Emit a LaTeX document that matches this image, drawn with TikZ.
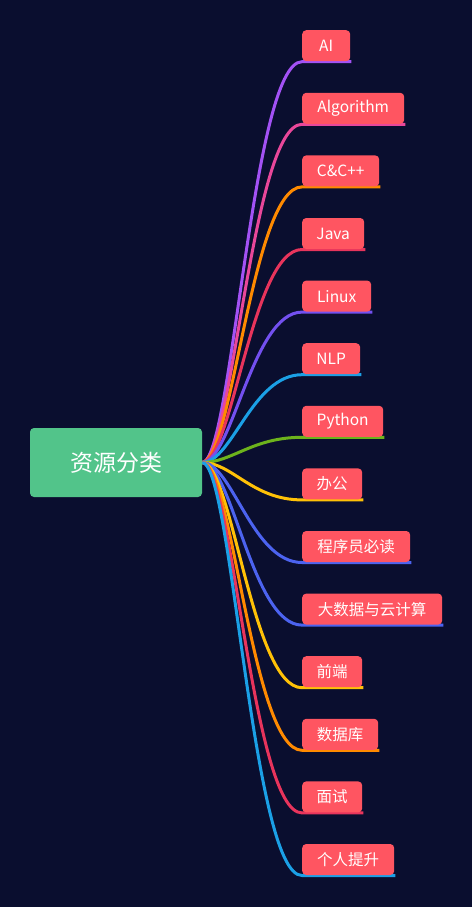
\documentclass[tikz,border=0pt]{standalone}
\usepackage{fontspec}
\setmainfont{Noto Sans CJK SC}
\usetikzlibrary{calc}
\definecolor{bgc}{HTML}{0A0E2F}
\definecolor{rootc}{HTML}{52C48A}
\definecolor{leafc}{HTML}{FF5561}
\definecolor{cPurple}{HTML}{A352F5}
\definecolor{cPink}{HTML}{E9479A}
\definecolor{cOrange}{HTML}{FF8A00}
\definecolor{cRed}{HTML}{E8345C}
\definecolor{cViolet}{HTML}{7350F0}
\definecolor{cSky}{HTML}{1BA0E6}
\definecolor{cGreen}{HTML}{6DB31C}
\definecolor{cYellow}{HTML}{FFC107}
\definecolor{cBlue}{HTML}{4C63F0}
\pgfdeclarelayer{backlayer}
\pgfdeclarelayer{linelayer}
\pgfsetlayers{backlayer,linelayer,main}
\tikzset{
  rootbox/.style={fill=rootc, rounded corners=4pt, minimum width=172, minimum height=69, inner sep=0pt, text=white, font=\fontsize{23}{27}\selectfont},
  leaf/.style={fill=leafc, rounded corners=4pt, minimum height=31, inner sep=0pt, text=white, font=\fontsize{15.5}{18}\selectfont, anchor=north west},
  branch/.style={line width=3pt}
}
\newcommand{\mmchild}[5]{%
  \pgfmathsetmacro\mmty{30+62.6*#2}%
  \node[leaf, minimum width=#3] (#1) at (302,\mmty) {#5};
  \begin{pgfonlayer}{linelayer}
  \draw[branch,#4] (root.east) .. controls +(30,0) and +(-50,0) .. ($(#1.south west)+(0,0.3)$) -- ($(#1.south east)+(1,0.3)$);
  \end{pgfonlayer}
}
\begin{document}
\begin{tikzpicture}[x=1pt,y=-1pt]
\useasboundingbox (0,0) rectangle (472,907);
\begin{pgfonlayer}{backlayer}
\fill[bgc] (0,0) rectangle (472,907);
\end{pgfonlayer}
\node[rootbox] (root) at (116,462.5) {资源分类};
\mmchild{c0}{0}{48}{cPurple}{AI}
\mmchild{c1}{1}{102}{cPink}{Algorithm}
\mmchild{c2}{2}{77}{cOrange}{C\&C++}
\mmchild{c3}{3}{62}{cRed}{Java}
\mmchild{c4}{4}{69}{cViolet}{Linux}
\mmchild{c5}{5}{58}{cSky}{NLP}
\mmchild{c6}{6}{81}{cGreen}{Python}
\mmchild{c7}{7}{60}{cYellow}{办公}
\mmchild{c8}{8}{108}{cBlue}{程序员必读}
\mmchild{c9}{9}{140}{cBlue}{大数据与云计算}
\mmchild{c10}{10}{60}{cYellow}{前端}
\mmchild{c11}{11}{76}{cOrange}{数据库}
\mmchild{c12}{12}{60}{cRed}{面试}
\mmchild{c13}{13}{92}{cSky}{个人提升}
\end{tikzpicture}
\end{document}
